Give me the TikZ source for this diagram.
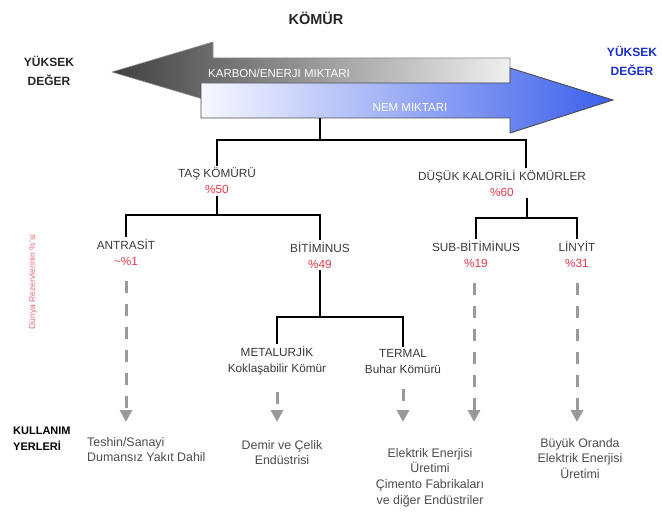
\documentclass[tikz,border=0pt]{standalone}
\usepackage{fontspec}
\setmainfont{Liberation Sans}
\usetikzlibrary{arrows.meta}
\definecolor{lbl}{HTML}{3A3A3A}
\definecolor{pct}{HTML}{E8384A}
\definecolor{flowgray}{HTML}{9A9A9A}
\definecolor{hiblue}{HTML}{1A2FC8}
\definecolor{arrblue}{HTML}{3C5FEB}
\begin{document}
\begin{tikzpicture}[x=1pt,y=-1pt,
  lab/.style={font=\fontsize{11.8}{16}\selectfont, text=lbl, align=center, inner sep=2pt},
  tree/.style={line width=2.6pt, black},
  flow/.style={draw=flowgray, line width=3pt, dash pattern=on 12pt off 11pt,
     -{Triangle[width=12pt,length=12pt,fill=flowgray!90!black]}, shorten <=14pt},
  usetxt/.style={font=\fontsize{12.4}{15.7}\selectfont, text=black!70, inner sep=1pt},
  hi/.style={font=\bfseries\fontsize{12}{19}\selectfont, align=center, inner sep=0pt}
]
\useasboundingbox[fill=white] (0,0) rectangle (662,513);

% title
\node[font=\bfseries\fontsize{14.5}{16}\selectfont, text=black!85] (komur) at (316,18) {KÖMÜR};
\node[hi, text=black!85] (hleft) at (49,71) {YÜKSEK\\DEĞER};
\node[hi, text=hiblue] (hright) at (632,61) {YÜKSEK\\DEĞER};

% grey arrow (carbon/energy)
\shadedraw[draw=black!45, line width=0.6pt, left color=black!75, right color=black!6]
  (112,72) -- (213,42) -- (213,58) -- (510,58) -- (510,86) -- (213,86) -- (213,102) -- cycle;
\node[font=\fontsize{11.5}{12}\selectfont, text=white] (karbon) at (279,73) {KARBON/ENERJI MIKTARI};

% blue arrow (moisture)
\shadedraw[draw=black!70, line width=0.9pt, left color=blue!3, right color=arrblue]
  (201,83) -- (510,83) -- (510,68) -- (613,100) -- (510,133) -- (510,118) -- (201,118) -- cycle;
\node[font=\fontsize{11.5}{12}\selectfont, text=white] (nem) at (410,108) {NEM MIKTARI};
\coordinate (base) at (320,118);

% tree nodes
\node[lab] (tas) at (217,181) {TAŞ KÖMÜRÜ\\\textcolor{pct}{\%50}};
\node[lab] (dusuk) at (502,183) {DÜŞÜK KALORİLİ KÖMÜRLER\\\textcolor{pct}{\%60}};
\node[lab] (antrasit) at (126,252) {ANTRASİT\\\textcolor{pct}{\textasciitilde\%1}};
\node[lab] (bitim) at (320,255) {BİTİMİNUS\\\textcolor{pct}{\%49}};
\node[lab] (subbit) at (476,254) {SUB-BİTİMİNUS\\\textcolor{pct}{\%19}};
\node[lab] (linyit) at (577,254) {LİNYİT\\\textcolor{pct}{\%31}};
\node[lab] (metal) at (277,361) {METALURJİK\\Koklaşabilir Kömür};
\node[lab] (termal) at (403,361) {TERMAL\\Buhar Kömürü};

% connectors
\coordinate (j1) at (320,140);
\coordinate (j2) at (217,215);
\coordinate (j3) at (320,317);
\coordinate (j4) at (527,218);
\draw[tree] (base) -- (j1);
\draw[tree] (tas.north) |- (j1) -| ([xshift=24pt]dusuk.north);
\draw[tree] (tas.south) -- (j2);
\draw[tree] (antrasit.north) |- (j2) -| (bitim.north);
\draw[tree] (bitim.south) -- (j3);
\draw[tree] (metal.north) |- (j3) -| (termal.north);
\draw[tree] ([xshift=25pt]dusuk.south) -- (j4);
\draw[tree] (subbit.north) |- (j4) -| (linyit.north);

% side label
\node[rotate=90, font=\fontsize{8.5}{10}\selectfont, text=pct!75] (dunya) at (33,282) {Dünya Rezervlerinin \%'si};

% uses
\node[font=\bfseries\fontsize{11}{16}\selectfont, align=left, anchor=north west, inner sep=0pt] (kull) at (13,427) {KULLANIM\\YERLERİ};
\node[usetxt, align=left, anchor=north west] (u1) at (86,436) {Teshin/Sanayi\\Dumansız Yakıt Dahil};
\node[usetxt, align=center, anchor=north] (u2) at (282,439) {Demir ve Çelik\\Endüstrisi};
\node[usetxt, align=center, anchor=north] (u3) at (430,447) {Elektrik Enerjisi\\Üretimi\\Çimento Fabrikaları\\ve diğer Endüstriler};
\node[usetxt, align=center, anchor=north] (u4) at (580,437) {Büyük Oranda\\Elektrik Enerjisi\\Üretimi};

\coordinate (tips) at (0,422);
\draw[flow] (antrasit.south) -- (antrasit.south |- tips);
\draw[flow] (metal.south) -- (metal.south |- tips);
\draw[flow] (termal.south) -- (termal.south |- tips);
\draw[flow] ([xshift=-2pt]subbit.south) -- ([xshift=-2pt]subbit.south |- tips);
\draw[flow] (linyit.south) -- (linyit.south |- tips);
\end{tikzpicture}
\end{document}
